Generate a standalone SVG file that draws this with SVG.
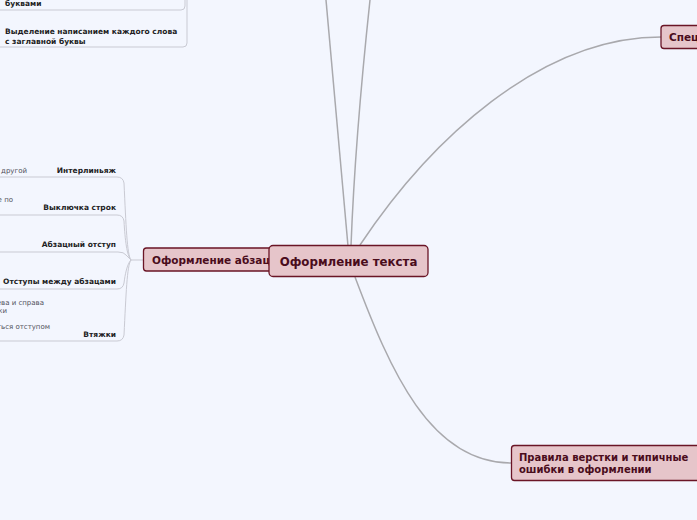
<svg xmlns="http://www.w3.org/2000/svg" width="697" height="520" viewBox="0 0 697 520">
<style>
.bg{fill:#f3f6fe}
.main{fill:none;stroke:#a9a9ad;stroke-width:1.5}
.sub{fill:none;stroke:#c9cad3;stroke-width:1}
.box{fill:#e6c5ca;stroke:#6a1526;stroke-width:1.3}
.t1{font-family:"DejaVu Sans",Verdana,sans-serif;font-weight:bold;font-size:10.5px;fill:#4a0c1c}
.t1s{font-family:"DejaVu Sans",Verdana,sans-serif;font-weight:bold;font-size:10px;fill:#4a0c1c}
.t0{font-family:"DejaVu Sans",Verdana,sans-serif;font-weight:bold;font-size:11.8px;fill:#4a0c1c}
.t2{font-family:"DejaVu Sans",Verdana,sans-serif;font-weight:bold;font-size:7.5px;fill:#1e1e24}
.note{font-family:"DejaVu Sans",Verdana,sans-serif;font-size:7px;fill:#50505a}
</style>
<rect class="bg" x="0" y="0" width="697" height="520"/>
<g id="connectors">
<path class="main" d="M348,246 L326,0"/>
<path class="main" d="M351,246 Q355,140 370,0"/>
<path class="main" d="M360,245 C430,140 540,37 661,37"/>
<path class="main" d="M355,277 C390,370 430,463 511,463"/>
<path class="sub" d="M131,260 L143,260"/>
<path class="sub" d="M0,177 H117 Q123,177 124,183 C126,225 127,255 131,260"/>
<path class="sub" d="M0,215 H117 Q123,215 124,221 C125,240 127,256 131,260"/>
<path class="sub" d="M0,252 H118 Q124,252 126,255 L131,260"/>
<path class="sub" d="M0,289 H117 Q123,289 124,283 C125,275 127,264 131,260"/>
<path class="sub" d="M0,341 H117 Q123,341 124,335 C126,295 127,265 131,260"/>
<path class="sub" d="M0,10 H181 Q185,10 185,6 V0"/>
<path class="sub" d="M0,47 H183 Q187,47 187,43 V0"/>
</g>
<g id="node-bukvami">
<text class="t2" x="5" y="6">буквами</text>
</g>
<g id="node-vydelenie">
<text class="t2" x="5" y="34">Выделение написанием каждого слова</text>
<text class="t2" x="5" y="44">с заглавной буквы</text>
</g>
<g id="node-interlinyazh">
<text class="note" x="27" y="173" text-anchor="end">т другой</text>
<text class="t2" x="116" y="173" text-anchor="end">Интерлиньяж</text>
</g>
<g id="node-vyklyuchka">
<text class="note" x="13" y="202" text-anchor="end">е по</text>
<text class="t2" x="116" y="210" text-anchor="end">Выключка строк</text>
</g>
<g id="node-abzatsny">
<text class="t2" x="116" y="247" text-anchor="end">Абзацный отступ</text>
</g>
<g id="node-otstupy">
<text class="t2" x="116" y="284" text-anchor="end">Отступы между абзацами</text>
</g>
<g id="node-vtyazhki">
<text class="note" x="44" y="305" text-anchor="end">ева и справа</text>
<text class="note" x="7" y="313" text-anchor="end">ки</text>
<text class="note" x="50" y="329" text-anchor="end">яться отступом</text>
<text class="t2" x="116" y="337" text-anchor="end">Втяжки</text>
</g>
<g id="node-abzats">
<rect class="box" x="143.5" y="248" width="150" height="23" rx="3"/>
<text class="t1" x="152" y="264">Оформление абзаца</text>
</g>
<g id="node-spec">
<rect class="box" x="661" y="25.5" width="60" height="23" rx="3"/>
<text class="t1" x="669" y="41">Спец</text>
</g>
<g id="node-pravila">
<rect class="box" x="511.5" y="445.5" width="200" height="35" rx="3"/>
<text class="t1s" x="519" y="461">Правила верстки и типичные</text>
<text class="t1s" x="519" y="473">ошибки в оформлении</text>
</g>
<g id="node-center">
<rect class="box" x="269" y="245.5" width="159" height="31" rx="4"/>
<text class="t0" x="348.5" y="266" text-anchor="middle">Оформление текста</text>
</g>
</svg>
